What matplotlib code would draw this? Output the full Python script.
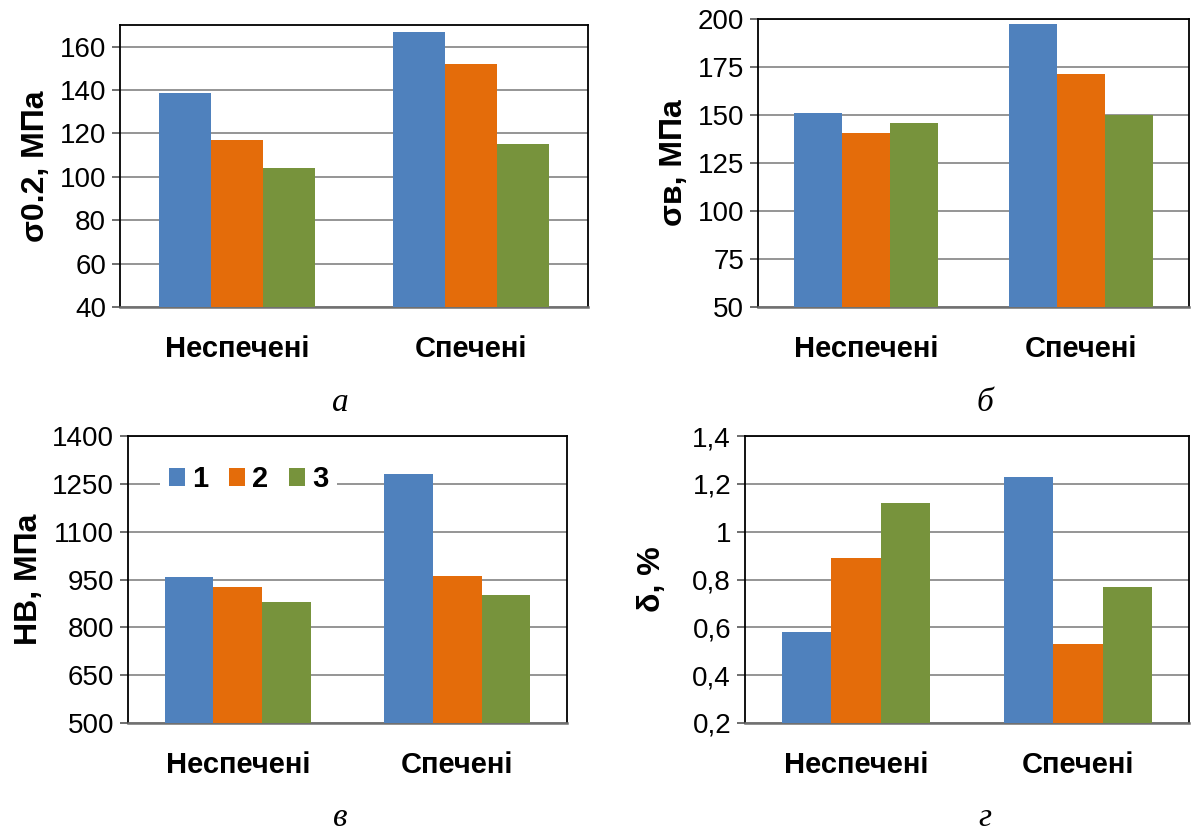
import matplotlib
matplotlib.use("Agg")
from matplotlib import pyplot as plt
import numpy as np

groups = ["Неспечені", "Спечені"]
series = ["1", "2", "3"]
colors = ["#4F81BD", "#E46C0A", "#77933C"]

sigma02 = [[138.5, 167], [117, 152], [104, 115]]
sigma_b = [[151, 197.5], [140.5, 171.5], [146, 150]]
hb = [[958, 1280], [928, 962], [880, 902]]
delta = [[0.58, 1.23], [0.89, 0.53], [1.12, 0.77]]

delta_ticks = [0.2, 0.4, 0.6, 0.8, 1.0, 1.2, 1.4]
delta_labels = ["0,2", "0,4", "0,6", "0,8", "1", "1,2", "1,4"]

plt.rcParams['font.family'] = ['Liberation Sans', 'DejaVu Sans']

W, H = 1192, 831
fig = plt.figure(figsize=(W / 100, H / 100), dpi=100)


def box(l, r, t, b):
    return [l / W, (H - b) / H, (r - l) / W, (b - t) / H]


def make_panel(rect, data, ylim, ticks, ylabel, letter, letter_xy, labels=None, pad=6):
    ax = fig.add_axes(rect)
    x = np.arange(len(groups))
    w = 1 / 4.5
    for i, vals in enumerate(data):
        ax.bar(x + (i - 1) * w, [v - ylim[0] for v in vals], w, bottom=ylim[0],
               color=colors[i], label=series[i], zorder=3)
    ax.set_xlim(-0.5, 1.5)
    ax.set_ylim(*ylim)
    ax.set_yticks(ticks)
    if labels:
        ax.set_yticklabels(labels)
    ax.yaxis.grid(True, color="#8c8c8c", lw=1.3, zorder=0)
    ax.set_xticks(x)
    ax.set_xticklabels(groups, fontsize=21, fontweight="bold")
    ax.tick_params(axis="x", length=0, pad=20)
    ax.tick_params(axis="y", labelsize=20, length=6, width=1.2, color="#555555", pad=4)
    for s in ["left", "top", "right"]:
        ax.spines[s].set_color("black")
        ax.spines[s].set_linewidth(1.3)
    ax.spines["bottom"].set_color("#707070")
    ax.spines["bottom"].set_linewidth(1.8)
    ax.set_ylabel(ylabel, fontsize=23, fontweight="bold", labelpad=pad)
    fig.text(letter_xy[0] / W, 1 - letter_xy[1] / H, letter, fontsize=24,
             family="Liberation Serif", style="italic", ha="center", va="center")
    return ax


make_panel(box(120, 588, 25, 307), sigma02, (40, 170), range(40, 161, 20),
           "σ0.2, МПа", "а", (340, 403))
make_panel(box(758, 1189, 19, 307), sigma_b, (50, 200), range(50, 201, 25),
           "σв, МПа", "б", (985, 403))
ax_c = make_panel(box(128, 567, 436, 723), hb, (500, 1400), range(500, 1401, 150),
                  "HB, МПа", "в", (340, 818))
make_panel(box(745, 1189, 436, 723), delta, (0.2, 1.4), delta_ticks,
           "δ, %", "г", (985, 818), labels=delta_labels, pad=18)

leg = ax_c.legend(loc="center left", bbox_to_anchor=(0.04, 0.85), ncol=3,
                  frameon=True, fancybox=False, edgecolor="none", facecolor="white",
                  framealpha=1, handlelength=0.55, handleheight=0.55, handletextpad=0.25,
                  columnspacing=0.7, borderpad=0.3,
                  prop={"size": 21, "weight": "bold"})
leg.set_zorder(5)

fig.savefig("out.png", dpi=100)
